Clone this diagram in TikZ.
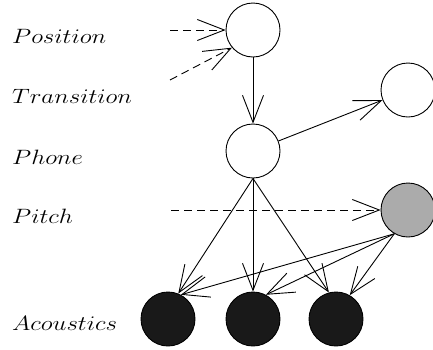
\documentclass[tikz,border=0pt]{standalone}
\usetikzlibrary{arrows.meta}
\begin{document}
\begin{tikzpicture}[x=1pt,y=-1pt,
  var/.style={circle,draw,line width=0.9pt,minimum size=54pt,inner sep=0pt},
  obs/.style={var,fill=black!90},
  hid/.style={var,fill=black!33},
  lab/.style={anchor=base west,inner sep=0pt,font=\fontsize{20.5}{24}\selectfont},
  edge/.style={line width=0.9pt,-{Straight Barb[length=27pt,width=21pt,line width=0.9pt]}},
  dedge/.style={edge,dash pattern=on 8pt off 5pt}]
\useasboundingbox (0,0) rectangle (433,349);
\node[lab] (lpos) at (12,43) {\scalebox{1.2}[1]{$Position$}};
\node[lab] (ltra) at (12,103) {\scalebox{1.2}[1]{$Transition$}};
\node[lab] (lpho) at (12,164) {\scalebox{1.2}[1]{$Phone$}};
\node[lab] (lpit) at (12,223) {\scalebox{1.2}[1]{$Pitch$}};
\node[lab] (lac) at (12,330) {\scalebox{1.2}[1]{$Acoustics$}};
\node[var] (pos) at (253,30) {};
\node[var] (ext) at (408,90) {};
\node[var] (pho) at (253,151) {};
\node[hid] (pit) at (408,210) {};
\node[obs] (a1) at (168,319) {};
\node[obs] (a2) at (253,319) {};
\node[obs] (a3) at (336,319) {};
\coordinate (d1) at (170,30);
\coordinate (d2) at (170,80);
\coordinate (d3) at (171,210);
\draw[dedge] (d1) -- (pos.west);
\draw[dedge] (d2) -- (pos.220);
\draw[dedge] (d3) -- (pit.west);
\draw[edge] (pos) -- (pho);
\draw[edge] (pho) -- (ext);
\draw[edge] (pho.south) -- (a1.68);
\draw[edge] (pho.south) -- (a2.north);
\draw[edge] (pho.south) -- (a3.105);
\draw[edge] (pit.240) -- (a1.62);
\draw[edge] (pit.240) -- (a2.62);
\draw[edge] (pit.240) -- (a3.60);
\end{tikzpicture}
\end{document}
